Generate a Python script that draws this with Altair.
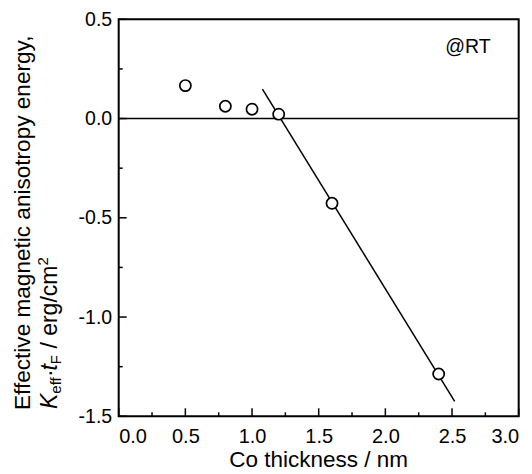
import altair as alt
import pandas as pd

# Data
thickness = [0.5, 0.8, 1.0, 1.2, 1.6, 2.4]
energy = [0.166, 0.062, 0.047, 0.022, -0.427, -1.287]
fit_x = [1.078, 2.52]
fit_y = [0.148, -1.425]
zero_x = [0.0, 3.0]
zero_y = [0.0, 0.0]
x_major = [0.0, 0.5, 1.0, 1.5, 2.0, 2.5, 3.0]
x_minor = [0.25, 0.75, 1.25, 1.75, 2.25, 2.75]
y_major = [-1.5, -1.0, -0.5, 0.0, 0.5]
y_minor = [-1.25, -0.75, -0.25, 0.25]
note = "@RT"
note_x = [2.79]
note_y = [0.33]

FONT = "Liberation Sans"
W, H = 400, 397

xs = alt.Scale(domain=[0, 3], nice=False, zero=False)
ys = alt.Scale(domain=[-1.5, 0.5], nice=False, zero=False)

minus_fmt = "datum.value < 0 ? '-' + format(-datum.value, '.1f') : format(datum.value, '.1f')"

pts_df = pd.DataFrame({"x": thickness, "y": energy})
fit_df = pd.DataFrame({"x": fit_x, "y": fit_y})
zero_df = pd.DataFrame({"x": zero_x, "y": zero_y})

base_axes = alt.Chart(pts_df).mark_point(opacity=0).encode(
    x=alt.X("x:Q", scale=xs, title=None,
            axis=alt.Axis(values=x_major, labelExpr=minus_fmt, ticks=False, domain=False, grid=False,
                          labelFont=FONT, labelFontSize=20, labelColor="black", labelPadding=10)),
    y=alt.Y("y:Q", scale=ys, title=None,
            axis=alt.Axis(values=y_major, labelExpr=minus_fmt, ticks=False, domain=False, grid=False,
                          labelFont=FONT, labelFontSize=19.5, labelColor="black", labelPadding=7)),
)

zero_line = alt.Chart(zero_df).mark_line(color="black", strokeWidth=1.5).encode(
    x=alt.X("x:Q", scale=xs), y=alt.Y("y:Q", scale=ys))

fit_line = alt.Chart(fit_df).mark_line(color="black", strokeWidth=1.5).encode(
    x=alt.X("x:Q", scale=xs), y=alt.Y("y:Q", scale=ys))

points = alt.Chart(pts_df).mark_point(shape="circle", filled=False, fill="white", fillOpacity=1,
                                      stroke="black", strokeWidth=1.7, size=125, opacity=1).encode(
    x=alt.X("x:Q", scale=xs), y=alt.Y("y:Q", scale=ys))

xmaj = alt.Chart(pd.DataFrame({"x": x_major})).mark_rule(color="black", strokeWidth=1.5).encode(
    x=alt.X("x:Q", scale=xs), y=alt.value(H), y2=alt.value(H - 8))
xmin = alt.Chart(pd.DataFrame({"x": x_minor})).mark_rule(color="black", strokeWidth=1.5).encode(
    x=alt.X("x:Q", scale=xs), y=alt.value(H), y2=alt.value(H - 4))
ymaj = alt.Chart(pd.DataFrame({"y": y_major})).mark_rule(color="black", strokeWidth=1.5).encode(
    y=alt.Y("y:Q", scale=ys), x=alt.value(0), x2=alt.value(8))
ymin = alt.Chart(pd.DataFrame({"y": y_minor})).mark_rule(color="black", strokeWidth=1.5).encode(
    y=alt.Y("y:Q", scale=ys), x=alt.value(0), x2=alt.value(4))

note_txt = alt.Chart(pd.DataFrame({"x": note_x, "y": note_y, "t": [note]})).mark_text(
    font=FONT, fontSize=19.5, align="right", baseline="alphabetic", color="black").encode(
    x=alt.X("x:Q", scale=xs), y=alt.Y("y:Q", scale=ys), text="t:N")

def txt(s, x, y, size, angle=0, style="normal", align="left"):
    return alt.Chart(pd.DataFrame({"t": [s]})).mark_text(
        font=FONT, fontSize=size, fontStyle=style, angle=angle, align=align,
        baseline="alphabetic", color="black").encode(
        x=alt.value(x), y=alt.value(y), text="t:N")

# x title
xtitle = txt("Co thickness / nm", W / 2, 447.5, 22.5, align="center")

# y title (rotated, two lines)
b1 = -88.7
b2 = -61.7
ytitle = [
    txt("Effective magnetic anisotropy energy,", b1, 390.7, 22.6, angle=270),
    txt("K", b2, 389.7, 23, angle=270, style="italic"),
    txt("eff", b2 + 4, 374.4, 15, angle=270),
    txt("\u00b7", b2, 357.7, 23, angle=270),
    txt("t", b2, 351.3, 23, angle=270, style="italic"),
    txt("F", b2 + 4, 344.9, 15, angle=270),
    txt("/ erg/cm", b2, 329.3, 23, angle=270),
    txt("2", b2 - 9, 246.2, 15, angle=270),
]

chart = alt.layer(
    base_axes, zero_line, fit_line, xmaj, xmin, ymaj, ymin, points, note_txt, xtitle, *ytitle
).properties(
    width=W, height=H,
    background="white",
    autosize=alt.AutoSizeParams(type="none"),
    padding={"left": 110.7, "top": 11.3, "right": 5, "bottom": 55},
).configure_view(
    stroke="black", strokeWidth=2
)

chart.save("out.html", embed_options={"renderer": "svg", "actions": False})
